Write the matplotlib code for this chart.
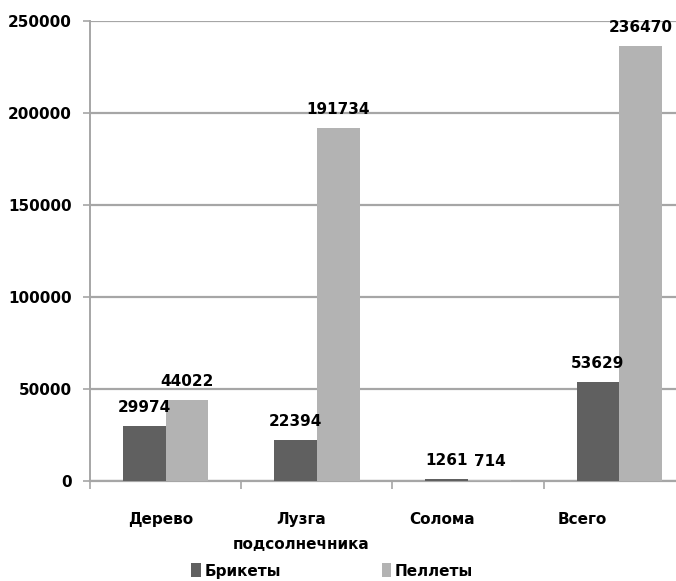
import numpy as np
import matplotlib
matplotlib.use('Agg')
import matplotlib.pyplot as plt

# данные
categories = ['Дерево', 'Лузга\nподсолнечника', 'Солома', 'Всего']
briquettes = [29974, 22394, 1261, 53629]
pellets = [44022, 191734, 714, 236470]
yticks = [0, 50000, 100000, 150000, 200000, 250000]

plt.rcParams['font.family'] = ['DejaVu Sans']
plt.rcParams['font.weight'] = 'bold'
plt.rcParams['font.size'] = 11

fig = plt.figure(figsize=(6.76, 5.81), dpi=100)
# область графика чуть выходит за правый край картинки, как в оригинале
ax = fig.add_axes([90 / 676, 100 / 581, 605 / 676, 460 / 581])

x = np.arange(len(categories))
w = 0.283
grid_c = '#a6a6a6'

b1 = ax.bar(x - w / 2, briquettes, w, color='#606060', label='Брикеты', zorder=3)
b2 = ax.bar(x + w / 2, pellets, w, color='#b3b3b3', label='Пеллеты', zorder=3)
ax.bar_label(b1, padding=8, fontweight='bold', zorder=4)
ax.bar_label(b2, padding=8, fontweight='bold', zorder=4)

ax.set_xlim(-0.5, len(categories) - 0.5)
ax.set_ylim(0, 250000)
ax.set_yticks(yticks)
ax.set_yticklabels([str(v) for v in yticks])
ax.yaxis.grid(True, color=grid_c, linewidth=1.6, zorder=0)
ax.tick_params(axis='y', length=5, width=1.2, color=grid_c, pad=8)

# подписи категорий (в оригинале они немного сжаты влево), засечки на границах
ax.set_xticks(x * 0.93 - 0.035)
ax.set_xticklabels(categories, linespacing=1.9)
ax.tick_params(axis='x', which='major', length=0, pad=22)
ax.set_xticks(np.arange(len(categories) + 1) - 0.5, minor=True)
ax.tick_params(axis='x', which='minor', length=6, width=1.2, color=grid_c)

for s in ['top', 'right']:
    ax.spines[s].set_visible(False)
ax.spines['left'].set_color(grid_c)
ax.spines['left'].set_linewidth(1.4)
ax.spines['bottom'].set_color(grid_c)
ax.spines['bottom'].set_linewidth(1.6)

fig.legend(loc='center', bbox_to_anchor=(332 / 676, 10 / 581), ncol=2,
           frameon=False, handlelength=0.65, handleheight=1.0, handletextpad=0.2,
           columnspacing=6.6, borderpad=0)

fig.savefig('out.png', dpi=100)
